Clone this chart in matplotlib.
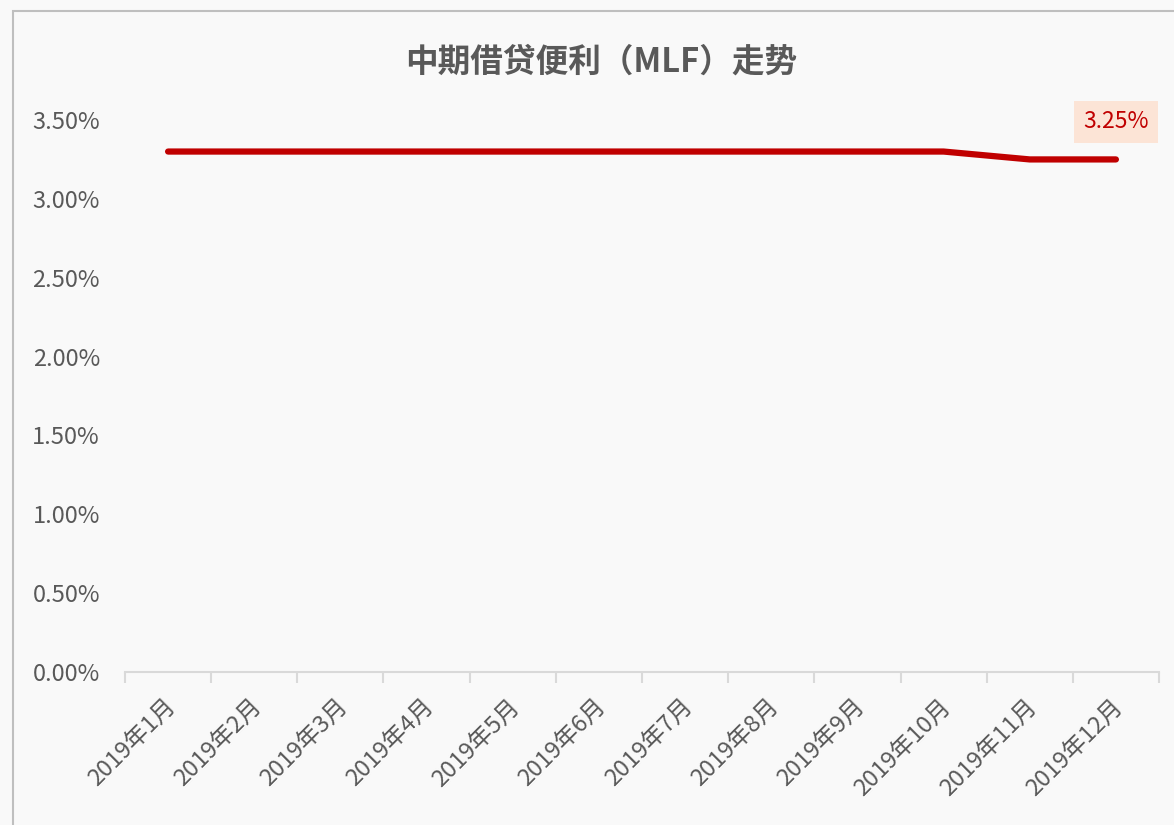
import matplotlib.pyplot as plt
import numpy as np
from matplotlib.patches import Rectangle
from matplotlib.ticker import FuncFormatter, MultipleLocator
from matplotlib.transforms import ScaledTranslation

plt.rcParams['font.family'] = ['Noto Sans CJK SC', 'DejaVu Sans']

# Datos
meses = ["2019年1月", "2019年2月", "2019年3月", "2019年4月", "2019年5月", "2019年6月",
         "2019年7月", "2019年8月", "2019年9月", "2019年10月", "2019年11月", "2019年12月"]
mlf = [0.0330, 0.0330, 0.0330, 0.0330, 0.0330, 0.0330,
       0.0330, 0.0330, 0.0330, 0.0330, 0.0325, 0.0325]

rojo = '#C00000'
gris = '#595959'
fondo = '#F9F9F9'

fig = plt.figure(figsize=(11.74, 8.25), dpi=100, facecolor=fondo)
ax = fig.add_axes([125 / 1174, 1 - 672 / 825, (1159 - 125) / 1174, (672 - 120) / 825])
ax.set_facecolor(fondo)

# Marco exterior del gráfico
fig.patches.append(Rectangle((13 / 1174, -0.1), 1.2, 1 - 11 / 825 + 0.1,
                             transform=fig.transFigure, fill=False,
                             edgecolor='#BFBFBF', linewidth=1.5))

x = np.arange(len(meses))
ax.plot(x, mlf, color=rojo, linewidth=4.5, solid_capstyle='round', solid_joinstyle='round')

# Etiqueta del último valor
ax.annotate(f"{mlf[-1] * 100:.2f}%", xy=(x[-1], mlf[-1]), xytext=(0, 27),
            textcoords='offset points', ha='center', va='center',
            fontsize=16.5, color=rojo,
            bbox=dict(boxstyle='square,pad=0.4', facecolor='#FCE4D6', edgecolor='none'))

ax.set_xlim(-0.5, len(meses) - 0.5)
ax.set_ylim(0, 0.035)
ax.yaxis.set_major_locator(MultipleLocator(0.005))
ax.yaxis.set_major_formatter(FuncFormatter(lambda v, p: f"{v * 100:.2f}%"))

for s in ['top', 'right', 'left']:
    ax.spines[s].set_visible(False)
ax.spines['bottom'].set_color('#D9D9D9')
ax.spines['bottom'].set_linewidth(1.5)

ax.set_xticks(np.arange(len(meses) + 1) - 0.5, minor=False)
ax.set_xticklabels([])
ax.tick_params(axis='x', which='major', length=8, color='#D9D9D9', width=1.5)
ax.set_xticks(x, minor=True)
ax.set_xticklabels(meses, minor=True, rotation=45, ha='right', rotation_mode='anchor',
                   fontsize=17, color=gris)
ax.tick_params(axis='x', which='minor', length=0, pad=17)
ax.tick_params(axis='y', length=0, labelsize=17, labelcolor=gris, pad=18)

desplaza = ScaledTranslation(-4 / 100, 0, fig.dpi_scale_trans)
for lbl in ax.get_xticklabels(minor=True):
    lbl.set_transform(lbl.get_transform() + desplaza)

fig.text(601 / 1174, 1 - 62 / 825, "中期借贷便利（MLF）走势", ha='center', va='center',
         fontsize=23.5, fontweight='bold', color=gris)

fig.savefig('out.png', dpi=100, facecolor=fondo)
